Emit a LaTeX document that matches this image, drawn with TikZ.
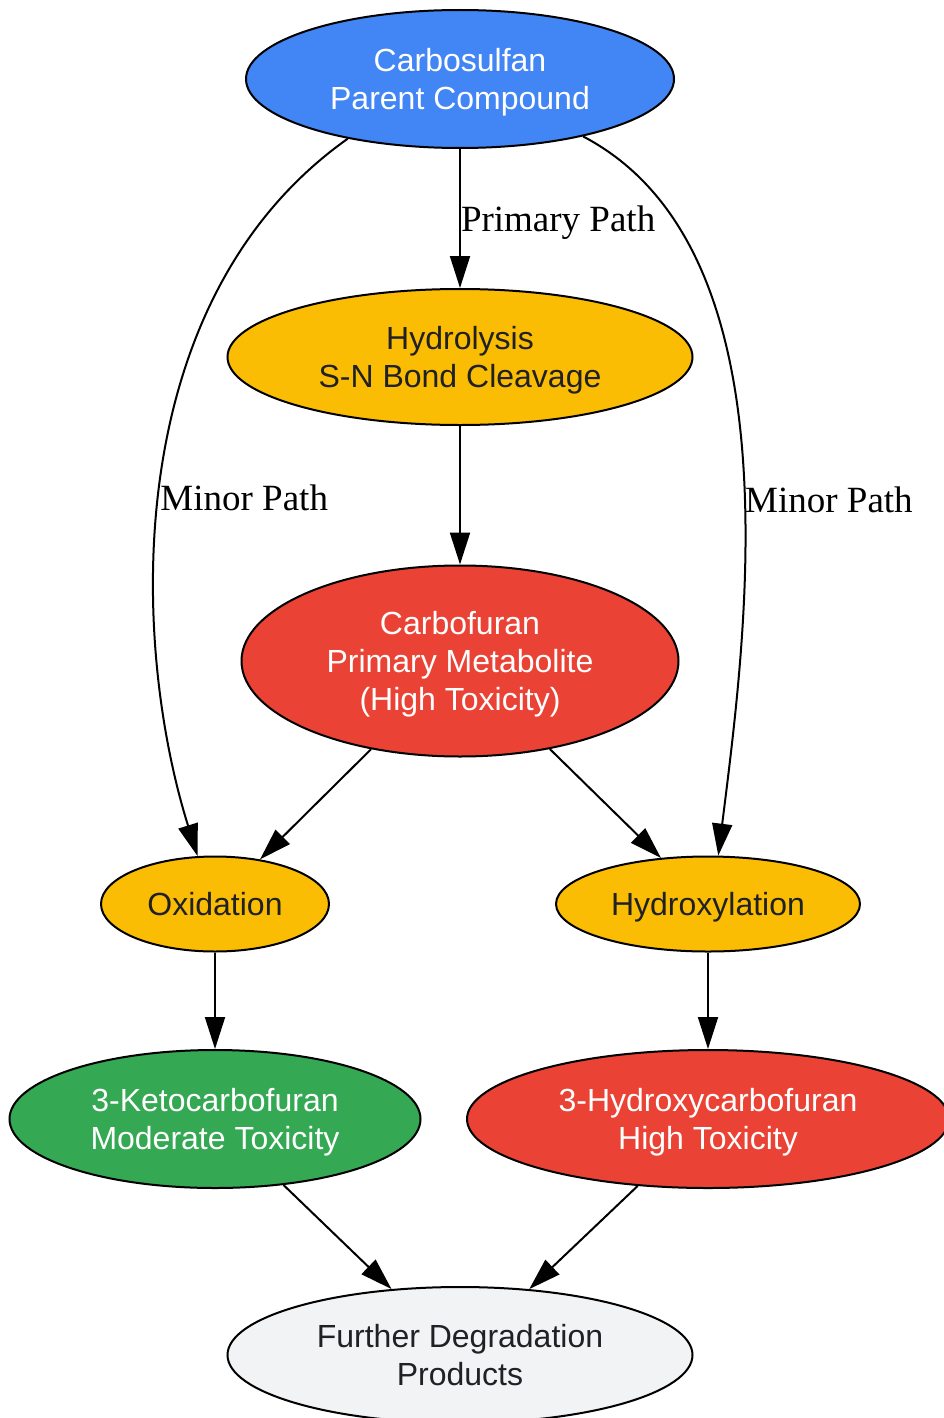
\documentclass[tikz,border=0pt]{standalone}
\usepackage{fontspec}
\setmainfont{Liberation Serif}
\newfontfamily\nodefont{Liberation Sans}
\usetikzlibrary{shapes.geometric,arrows.meta}
\definecolor{gblue}{HTML}{4285F4}
\definecolor{gyellow}{HTML}{FBBC04}
\definecolor{gred}{HTML}{EA4335}
\definecolor{ggreen}{HTML}{34A853}
\definecolor{ggray}{HTML}{F1F3F4}
\definecolor{gdark}{HTML}{202124}

\begin{document}
\begin{tikzpicture}[x=0.5pt,y=-0.5pt,
  oval/.style={ellipse,draw=black,line width=1pt,inner sep=0pt,align=center,text depth=0pt,
    font=\nodefont\fontsize{16}{19}\selectfont},
  parent/.style={oval,fill=gblue,text=white},
  stage/.style={oval,fill=gyellow,text=gdark},
  toxic/.style={oval,fill=gred,text=white},
  mild/.style={oval,fill=ggreen,text=white},
  rest/.style={oval,fill=ggray,text=gdark},
  link/.style={line width=1pt,-{Triangle[length=16pt,width=10pt]}},
  tag/.style={font=\fontsize{18.5}{22}\selectfont,inner sep=0pt,anchor=west}]
\useasboundingbox (0,0) rectangle (943,1418);
\node[parent,minimum width=214pt,minimum height=69pt] (carbo) at (460,79) {Carbosulfan\\Parent Compound};
\node[stage,minimum width=232.5pt,minimum height=68pt] (hydrol) at (460,357) {Hydrolysis\\S-N Bond Cleavage};
\node[toxic,minimum width=218.5pt,minimum height=95.5pt] (furan) at (460,661) {Carbofuran\\Primary Metabolite\\(High Toxicity)};
\node[stage,minimum width=114pt,minimum height=47.5pt] (oxid) at (215,904) {Oxidation};
\node[stage,minimum width=152pt,minimum height=47.5pt] (hydrox) at (708,904) {Hydroxylation};
\node[mild,minimum width=205.5pt,minimum height=69pt] (keto) at (215,1119) {3-Ketocarbofuran\\Moderate Toxicity};
\node[toxic,minimum width=241pt,minimum height=69pt] (hycarb) at (708,1119) {3-Hydroxycarbofuran\\High Toxicity};
\node[rest,minimum width=232.5pt,minimum height=68pt] (further) at (460,1355) {Further Degradation\\Products};
\draw[link] (carbo) -- node[tag,pos=0.53] {Primary Path} (hydrol);
\draw[link] (carbo.208) .. controls (120,300) and (130,640) .. node[tag,pos=0.526] {Minor Path} (oxid.110);
\draw[link] (carbo.335) .. controls (800,250) and (745,640) .. node[tag,pos=0.55] {Minor Path} (hydrox.78);
\draw[link] (hydrol) -- (furan);
\draw[link] (furan) -- (oxid);
\draw[link] (furan) -- (hydrox);
\draw[link] (oxid) -- (keto);
\draw[link] (hydrox) -- (hycarb);
\draw[link] (keto) -- (further);
\draw[link] (hycarb) -- (further);
\end{tikzpicture}
\end{document}
